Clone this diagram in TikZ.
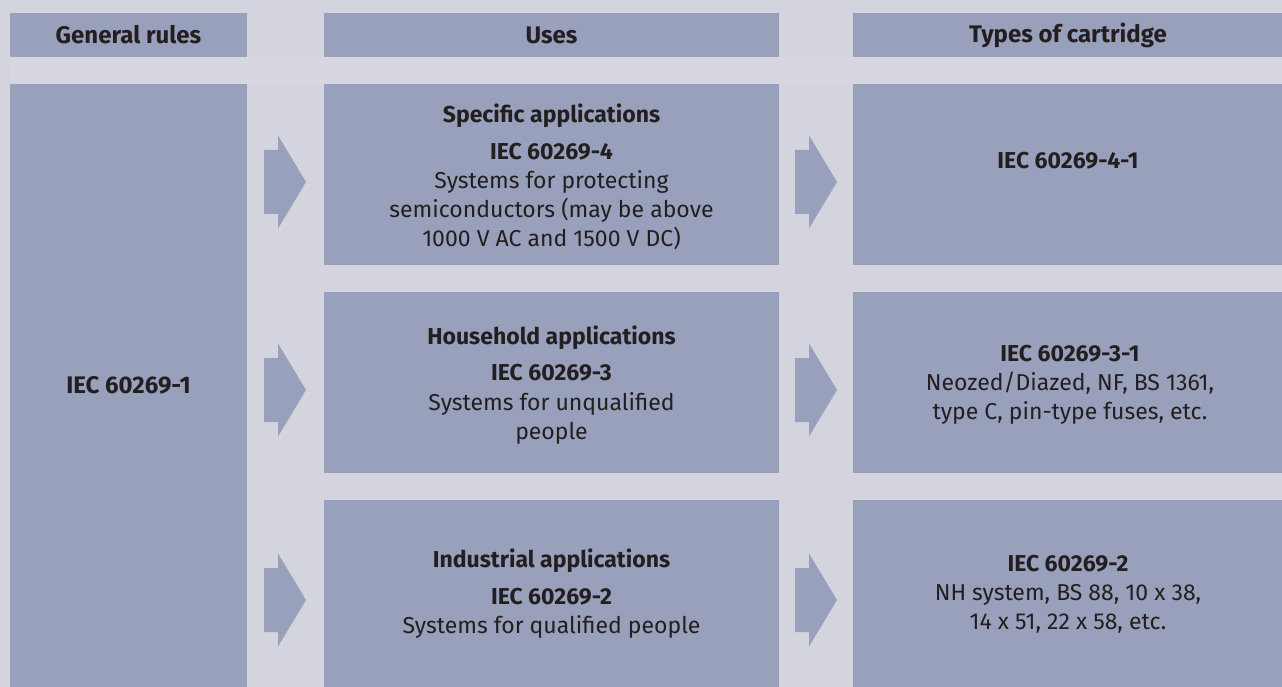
\documentclass[tikz,border=0pt]{standalone}
\usepackage{fontspec}
\setmainfont{Fira Sans}
\usetikzlibrary{positioning}
\definecolor{pagebg}{HTML}{D3D4DE}
\definecolor{bandbg}{HTML}{D6D7E0}
\definecolor{cellfill}{HTML}{98A0BB}
\definecolor{inktext}{HTML}{231F20}
\begin{document}
\begin{tikzpicture}[x=1pt, y=-1pt,
    cell/.style={fill=cellfill, inner sep=0pt, outer sep=0pt, anchor=north west},
    txt/.style={text=inktext, align=center, inner sep=0pt, font=\fontsize{23}{29}\selectfont},
    head/.style={txt, font=\fontsize{24}{29}\selectfont\bfseries},
  ]
  \fill[pagebg] (0,0) rectangle (1282,687);
  \useasboundingbox (0,0) rectangle (1282,687);
  \fill[bandbg] (10,57) rectangle (1282,84);

  % header row
  \node[cell, minimum width=237pt, minimum height=44pt] (hrules) at (10,13) {};
  \node[cell, minimum width=455pt, minimum height=44pt] (huses) at (324,13) {};
  \node[cell, minimum width=429pt, minimum height=44pt] (htypes) at (853,13) {};
  \node[head] (trules) at (hrules.center) {General rules};
  \node[head] (tuses) at (huses.center) {Uses};
  \node[head] (ttypes) at (1068,35) {Types of cartridge};

  % general rules column
  \node[cell, minimum width=237pt, minimum height=603pt] (rules) at (10,84) {};
  \node[head] (iec1) at (rules.center) {IEC 60269-1};

  % uses column
  \node[cell, minimum width=455pt, minimum height=181pt] (usea) at (324,84) {};
  \node[cell, minimum width=455pt, minimum height=181pt] (useb) at (324,292) {};
  \node[cell, minimum width=455pt, minimum height=187pt] (usec) at (324,500) {};
  \node[txt] (specific) at (551.5,177) {\textbf{Specific applications}\\[8pt]\textbf{IEC 60269-4}\\Systems for protecting\\semiconductors (may be above\\1000 V AC and 1500 V DC)};
  \node[txt] (household) at (551.5,385) {\textbf{Household applications}\\[7pt]\textbf{IEC 60269-3}\\[1pt]Systems for unqualified\\people};
  \node[txt] (industrial) at (551.5,594) {\textbf{Industrial applications}\\[8pt]\textbf{IEC 60269-2}\\Systems for qualified people};

  % types of cartridge column
  \node[cell, minimum width=429pt, minimum height=181pt] (typea) at (853,84) {};
  \node[cell, minimum width=429pt, minimum height=181pt] (typeb) at (853,292) {};
  \node[cell, minimum width=429pt, minimum height=187pt] (typec) at (853,500) {};
  \node[txt, font=\fontsize{23}{29}\selectfont\bfseries] (iec41) at (1068,161) {IEC 60269-4-1};
  \node[txt] (iec31) at (1070,385) {\textbf{IEC 60269-3-1}\\Neozed/Diazed, NF, BS 1361,\\type C, pin-type fuses, etc.};
  \node[txt] (iec2) at (1068,594) {\textbf{IEC 60269-2}\\NH system, BS 88, 10 x 38,\\14 x 51, 22 x 58, etc.};

  % block arrows
  \foreach \x/\y in {264/182, 264/390, 264/600, 795/182, 795/390, 795/600}
    \fill[cellfill] (\x,\y-32) -- (\x+14,\y-32) -- (\x+14,\y-46.5) -- (\x+42,\y)
      -- (\x+14,\y+46.5) -- (\x+14,\y+32) -- (\x,\y+32) -- cycle;
\end{tikzpicture}
\end{document}
